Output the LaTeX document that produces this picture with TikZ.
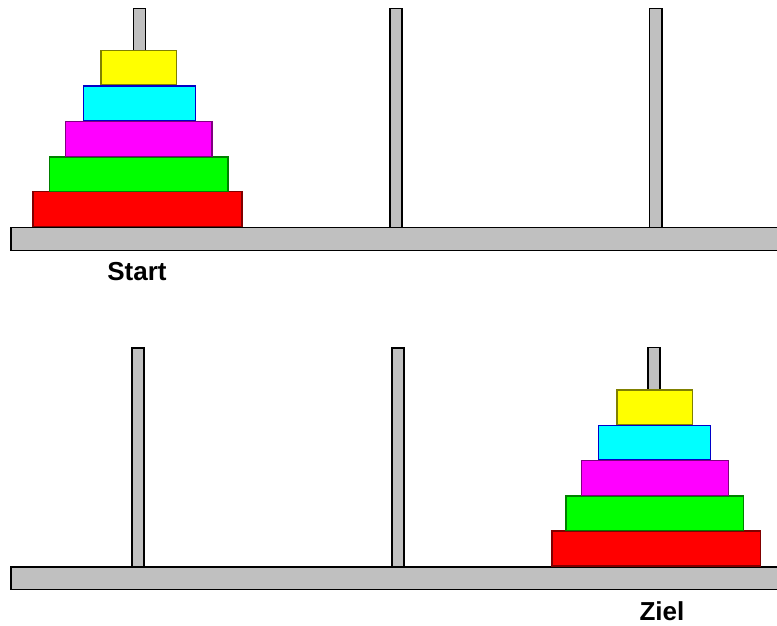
\documentclass[tikz,border=0pt]{standalone}
\usepackage{fontspec}
\setmainfont{Liberation Sans}
\definecolor{dYellow}{RGB}{255,255,0}
\definecolor{dCyan}{RGB}{0,255,255}
\definecolor{dMagenta}{RGB}{255,0,255}
\definecolor{dGreen}{RGB}{0,255,0}
\definecolor{dRed}{RGB}{255,0,0}
\definecolor{eYellow}{RGB}{128,128,0}
\definecolor{eCyan}{RGB}{0,0,200}
\definecolor{eMagenta}{RGB}{128,0,128}
\definecolor{eGreen}{RGB}{0,128,0}
\definecolor{eRed}{RGB}{128,0,0}
\definecolor{woodgray}{RGB}{192,192,192}
\begin{document}
\begin{tikzpicture}[x=1pt,y=-1pt,
  woodpart/.style={draw=black,fill=woodgray,line width=1.8pt},
  disk/.style={line width=1.1pt},
  lab/.style={font=\fontsize{26}{30}\selectfont\bfseries,inner sep=0pt}]
\useasboundingbox (0,0) rectangle (777,626);
\clip (0,0) rectangle (777,626);
\fill[white] (0,0) rectangle (777,626);
% ---------- top (Start) ----------
\draw[woodpart] (11,227.5) rectangle (790,250.5);
\draw[woodpart] (133.5,8.5) rectangle (145.5,227.5);
\draw[woodpart] (390,8.5) rectangle (402.2,227.5);
\draw[woodpart] (649.5,8.5) rectangle (662,227.5);
\draw[disk,draw=eRed,fill=dRed] (33,191.7) rectangle (242,226.5);
\draw[disk,draw=eGreen,fill=dGreen] (49.7,157) rectangle (228,191.2);
\draw[disk,draw=eMagenta,fill=dMagenta] (65.7,121.7) rectangle (212,156.2);
\draw[disk,draw=eCyan,fill=dCyan] (83.3,86) rectangle (195.7,120.5);
\draw[disk,draw=eYellow,fill=dYellow] (101,50.7) rectangle (176.7,84.5);
\node[lab] (start) at (137,272) {Start};
% ---------- bottom (Ziel) ----------
\draw[woodpart] (11,567) rectangle (790,589.5);
\draw[woodpart] (131.8,347.7) rectangle (144,567);
\draw[woodpart] (391.8,347.7) rectangle (404,567);
\draw[woodpart] (647.8,347.5) rectangle (660,567);
\draw[disk,draw=eRed,fill=dRed] (552,531) rectangle (760.7,566);
\draw[disk,draw=eGreen,fill=dGreen] (566,496) rectangle (743.7,530.5);
\draw[disk,draw=eMagenta,fill=dMagenta] (581.7,460.7) rectangle (728.3,495.3);
\draw[disk,draw=eCyan,fill=dCyan] (598.7,425.3) rectangle (710.7,459.5);
\draw[disk,draw=eYellow,fill=dYellow] (617,390) rectangle (692.7,424.2);
\node[lab] (ziel) at (662,611) {Ziel};
\end{tikzpicture}
\end{document}
